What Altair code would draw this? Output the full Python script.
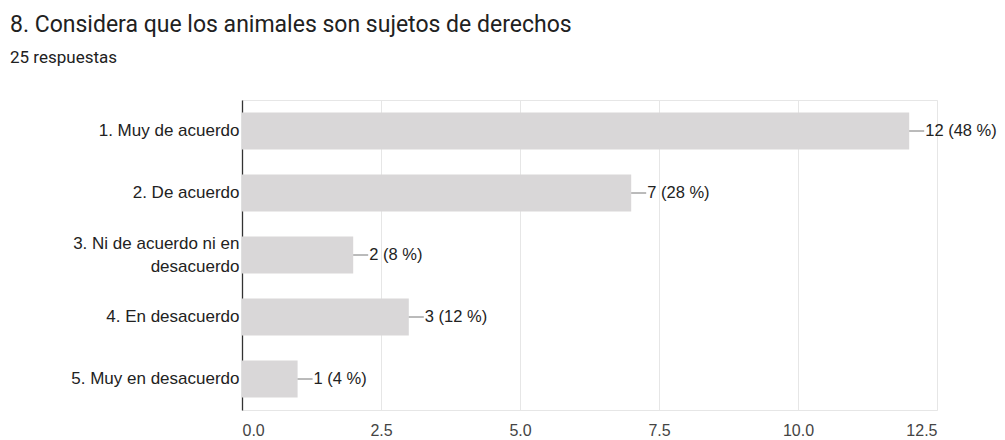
import altair as alt
import pandas as pd

categories = ["1. Muy de acuerdo", "2. De acuerdo", "3. Ni de acuerdo ni en|desacuerdo",
              "4. En desacuerdo", "5. Muy en desacuerdo"]
counts = [12, 7, 2, 3, 1]
total = 25
x_ticks = [0, 2.5, 5, 7.5, 10, 12.5]

labels = [f"{c} ({round(c / total * 100)} %)" for c in counts]
df = pd.DataFrame({"cat": categories, "count": counts, "label": labels})

TFONT = "Roboto"
FONT = "Liberation Sans"

y_enc = alt.Y("cat:N", sort=categories, title=None,
              scale=alt.Scale(paddingInner=0.4, paddingOuter=0.2),
              axis=alt.Axis(labelExpr="split(datum.label, '|')", labelFontSize=17,
                            labelColor="#222222", labelFont=FONT, ticks=False,
                            domain=True, domainColor="#333333", domainWidth=1.3,
                            labelPadding=3, labelLimit=300, labelLineHeight=23,
                            labelOffset={"condition": {"test": "indexof(datum.value, '|') >= 0",
                                                       "value": -11}, "value": 0}))
x_enc = alt.X("count:Q", title=None,
              scale=alt.Scale(domain=[0, 12.5], nice=False),
              axis=alt.Axis(values=x_ticks, format=".1f", labelFontSize=16,
                            labelColor="#444444", labelFont=FONT, ticks=False,
                            domain=False, grid=True, gridColor="#e6e6e6",
                            labelPadding=12))

bars = alt.Chart(df).mark_bar(color="#d9d7d8").encode(x=x_enc, y=y_enc)
leader = alt.Chart(df).mark_rule(color="#777777", strokeWidth=1, x2Offset=15).encode(
    x="count:Q", x2="count:Q", y=alt.Y("cat:N", sort=categories))
text = alt.Chart(df).mark_text(align="left", baseline="middle", dx=16, fontSize=16.5,
                               font=FONT, color="#222222").encode(
    x="count:Q", y=alt.Y("cat:N", sort=categories), text="label:N")

chart = alt.layer(bars, leader, text).properties(
    width=695, height=310,
    autosize=alt.AutoSizeParams(type="none"),
    padding={"left": 234, "top": 92, "right": 60, "bottom": 32},
    title=alt.TitleParams(
        "8. Considera que los animales son sujetos de derechos",
        subtitle="25 respuestas", anchor="start", frame="group", dx=-232, offset=34,
        font=TFONT, fontSize=23, fontWeight="normal", color="#212121",
        subtitleFont=TFONT, subtitleFontSize=17, subtitleColor="#212121",
        subtitlePadding=13),
).configure_view(stroke="#e6e6e6", strokeWidth=1)

chart.save("out.html", embed_options={"renderer": "svg", "actions": False})
